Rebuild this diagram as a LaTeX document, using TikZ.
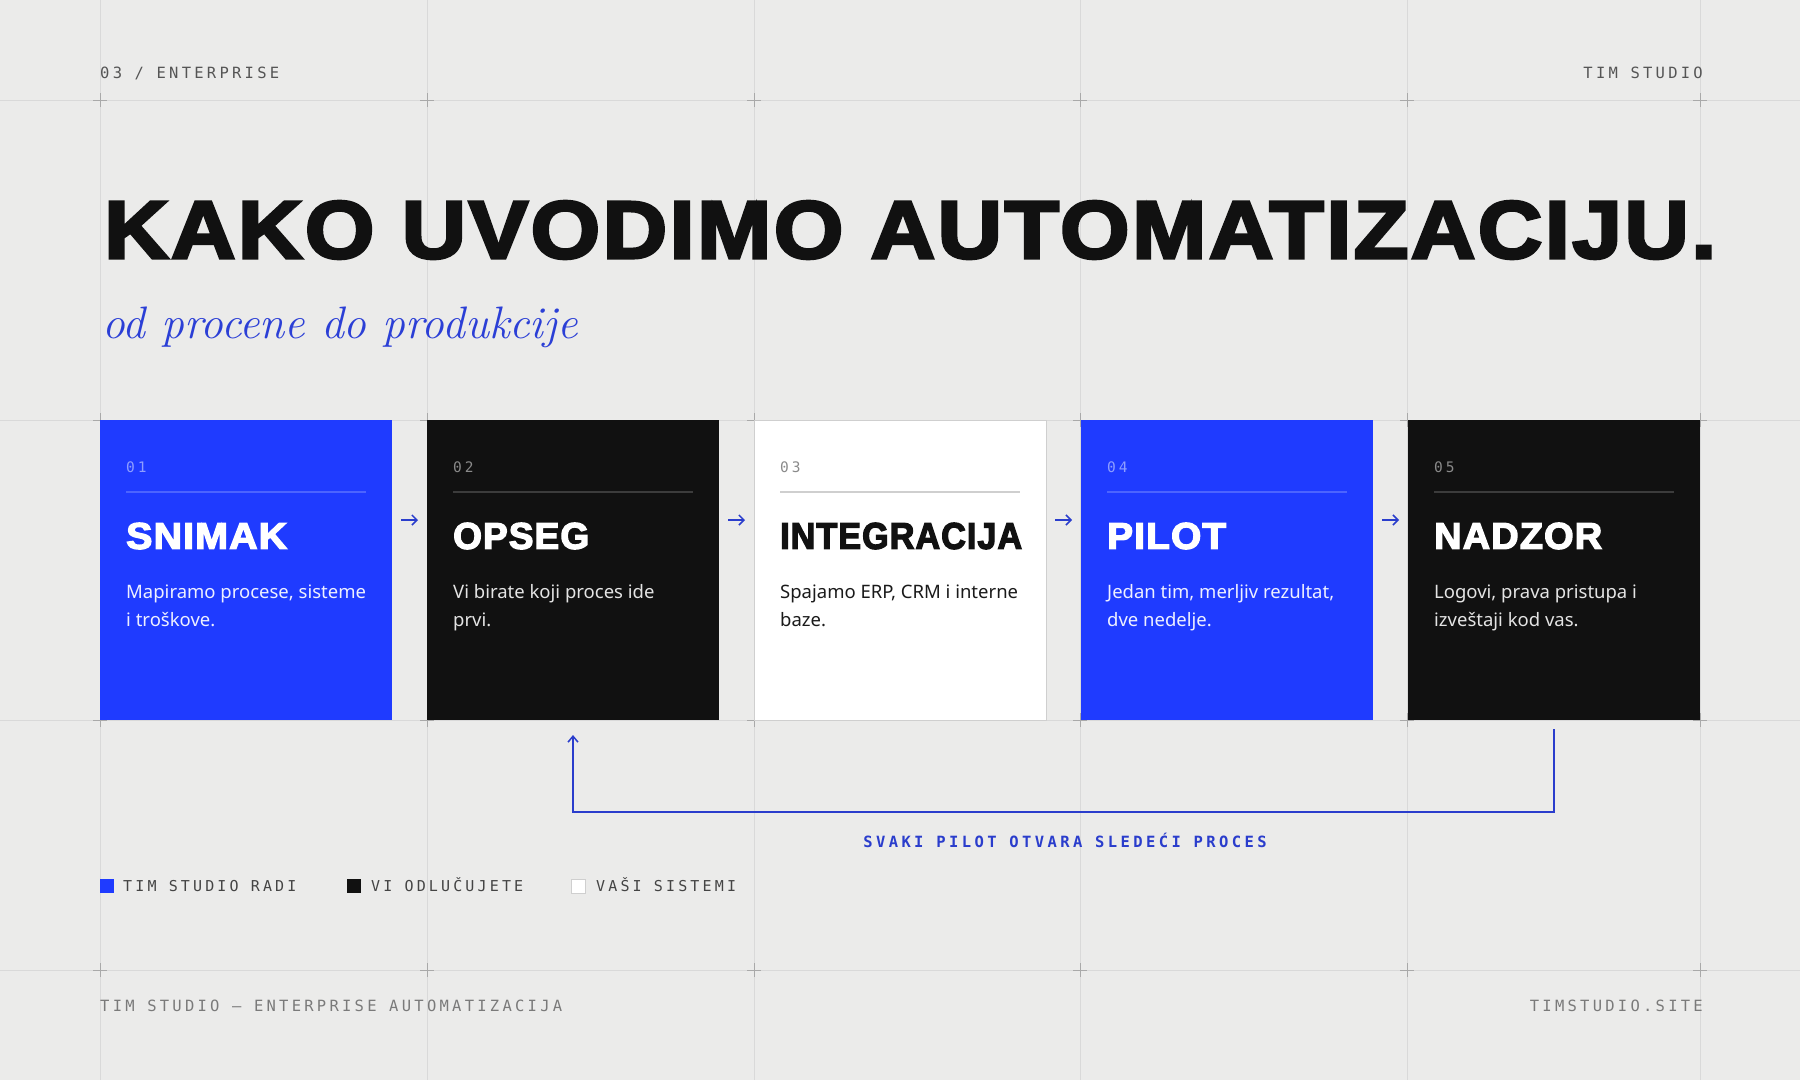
\documentclass[tikz,border=0pt]{standalone}
\usepackage{fontspec}
\usepackage{graphicx}
\usetikzlibrary{arrows.meta,calc}
\newfontfamily\heavyfont{Liberation Sans Bold}[FakeBold=3.5,LetterSpace=3]
\newfontfamily\monofont{DejaVu Sans Mono}[LetterSpace=21]
\newfontfamily\monoboldfont{DejaVu Sans Mono Bold}[LetterSpace=22]
\newfontfamily\descfont{Noto Sans}
\definecolor{bgc}{HTML}{EBEBEA}
\definecolor{gridc}{HTML}{D9D9D9}
\definecolor{crossc}{HTML}{A9A9A9}
\definecolor{blueA}{HTML}{1F3BFF}
\definecolor{inkA}{HTML}{111111}
\definecolor{accentA}{HTML}{2A3DCC}
\definecolor{subA}{HTML}{2B3FD6}
\definecolor{headA}{HTML}{555555}
\definecolor{footA}{HTML}{7A7A7A}
\definecolor{legA}{HTML}{444444}
% schemes
\definecolor{bNum}{HTML}{8E9EFF}\definecolor{bSep}{HTML}{4C64FF}\definecolor{bTtl}{HTML}{FFFFFF}\definecolor{bTxt}{HTML}{EEF0FF}
\definecolor{kNum}{HTML}{8A8A8A}\definecolor{kSep}{HTML}{3C3C3C}\definecolor{kTtl}{HTML}{FFFFFF}\definecolor{kTxt}{HTML}{E4E4E4}
\definecolor{wNum}{HTML}{8A8A8A}\definecolor{wSep}{HTML}{CFCFCF}\definecolor{wTtl}{HTML}{111111}\definecolor{wTxt}{HTML}{1A1A1A}
\newcommand\cardcontent[7]{%
  \node[numtext,text=#2Num] (#1-num) at ([shift={(26,52)}]#1.north west) {#3};
  \draw[draw=#2Sep,line width=1.5pt] ([shift={(26,72)}]#1.north west) -- ([shift={(-26,72)}]#1.north east);
  \node[anchor=west,inner sep=0pt,text=#2Ttl] (#1-title) at ([shift={(26,116)}]#1.north west) {\resizebox{#5pt}{26pt}{\heavyfont #4}};
  \node[desctext,text=#2Txt] (#1-l1) at ([shift={(26,178)}]#1.north west) {#6};
  \node[desctext,text=#2Txt] (#1-l2) at ([shift={(26,206.5)}]#1.north west) {#7};
}
\begin{document}
\begin{tikzpicture}[x=1pt,y=-1pt,
  gridline/.style={draw=gridc,line width=1pt},
  crossmark/.style={draw=crossc,line width=1pt},
  card/.style={minimum width=292pt,minimum height=300pt,inner sep=0pt,outer sep=0pt,anchor=north west},
  numtext/.style={anchor=base west,inner sep=0pt,font=\monofont\fontsize{14.5}{16}\selectfont},
  desctext/.style={anchor=base west,inner sep=0pt,font=\descfont\fontsize{18.5}{22}\selectfont},
  headtext/.style={inner sep=0pt,text=headA,font=\monofont\fontsize{15.5}{18}\selectfont},
  foottext/.style={inner sep=0pt,text=footA,font=\monofont\fontsize{15.5}{18}\selectfont},
  legtext/.style={anchor=base west,inner sep=0pt,text=legA,font=\monofont\fontsize{15}{17}\selectfont},
  legsq/.style={minimum size=14pt,inner sep=0pt,outer sep=0pt},
  stepflow/.style={draw=accentA,line width=1.5pt,-{Straight Barb[length=5pt,width=10pt,line width=1.5pt]}},
  loopline/.style={draw=accentA,line width=1.5pt,-{Straight Barb[length=6pt,width=10pt,line width=1.5pt]}},
]
\useasboundingbox (0,0) rectangle (1800,1080);
\fill[bgc] (0,0) rectangle (1800,1080);
% grid
\foreach \x in {100,427,754,1080,1407,1700} \draw[gridline] (\x,0) -- (\x,1080);
\foreach \y in {100,420,720,970} \draw[gridline] (0,\y) -- (1800,\y);
\foreach \x in {100,427,754,1080,1407,1700} \foreach \y in {100,420,720,970}
  {\draw[crossmark] (\x-7,\y) -- (\x+7,\y) (\x,\y-7) -- (\x,\y+7);}
% header
\node[headtext,anchor=base west] (hl) at (100,78) {03 / ENTERPRISE};
\node[headtext,anchor=base east] (hr) at (1703,78) {TIM STUDIO};
% title
\node[anchor=west,inner sep=0pt,text=inkA] (title) at (104,230) {\resizebox{1612pt}{57pt}{\heavyfont KAKO UVODIMO AUTOMATIZACIJU.}};
\node[anchor=base west,inner sep=0pt,text=subA] (sub) at (102,338) {\fontsize{45.5}{50}\selectfont\itshape od procene do produkcije};
% cards
\node[card,fill=blueA] (c1) at (100,420) {};
\node[card,fill=inkA] (c2) at (427,420) {};
\node[card,fill=white,draw=wSep,line width=1pt] (c3) at (754,420) {};
\node[card,fill=blueA] (c4) at (1081,420) {};
\node[card,fill=inkA] (c5) at (1408,420) {};
\cardcontent{c1}{b}{01}{SNIMAK}{161}{Mapiramo procese, sisteme}{i troškove.}
\cardcontent{c2}{k}{02}{OPSEG}{136}{Vi birate koji proces ide}{prvi.}
\cardcontent{c3}{w}{03}{INTEGRACIJA}{242}{Spajamo ERP, CRM i interne}{baze.}
\cardcontent{c4}{b}{04}{PILOT}{119}{Jedan tim, merljiv rezultat,}{dve nedelje.}
\cardcontent{c5}{k}{05}{NADZOR}{168}{Logovi, prava pristupa i}{izveštaji kod vas.}
% step arrows
\draw[stepflow] ([shift={(9,-50)}]c1.east) -- ([shift={(-9,-50)}]c2.west);
\draw[stepflow] ([shift={(9,-50)}]c2.east) -- ([shift={(-9,-50)}]c3.west);
\draw[stepflow] ([shift={(9,-50)}]c3.east) -- ([shift={(-9,-50)}]c4.west);
\draw[stepflow] ([shift={(9,-50)}]c4.east) -- ([shift={(-9,-50)}]c5.west);
% loop back
\draw[loopline] ([yshift=-9pt]c5.south) -- ++(0,83) -| ([yshift=-15pt]c2.south);
\node[inner sep=0pt,anchor=base,text=accentA,font=\monoboldfont\fontsize{15.5}{18}\selectfont] (looplbl) at (1065,847) {SVAKI PILOT OTVARA SLEDEĆI PROCES};
% legend
\node[legsq,fill=blueA] (lg1) at (107,886) {};
\node[legtext] (lt1) at (123,891.5) {TIM STUDIO RADI};
\node[legsq,fill=inkA] (lg2) at (354,886) {};
\node[legtext] (lt2) at (371,891.5) {VI ODLUČUJETE};
\node[legsq,fill=white,draw=wSep,line width=1pt] (lg3) at (578,886) {};
\node[legtext] (lt3) at (596,891.5) {VAŠI SISTEMI};
% footer
\node[foottext,anchor=base west] (fl) at (100,1011) {TIM STUDIO — ENTERPRISE AUTOMATIZACIJA};
\node[foottext,anchor=base east] (fr) at (1703,1011) {TIMSTUDIO.SITE};
\end{tikzpicture}
\end{document}
